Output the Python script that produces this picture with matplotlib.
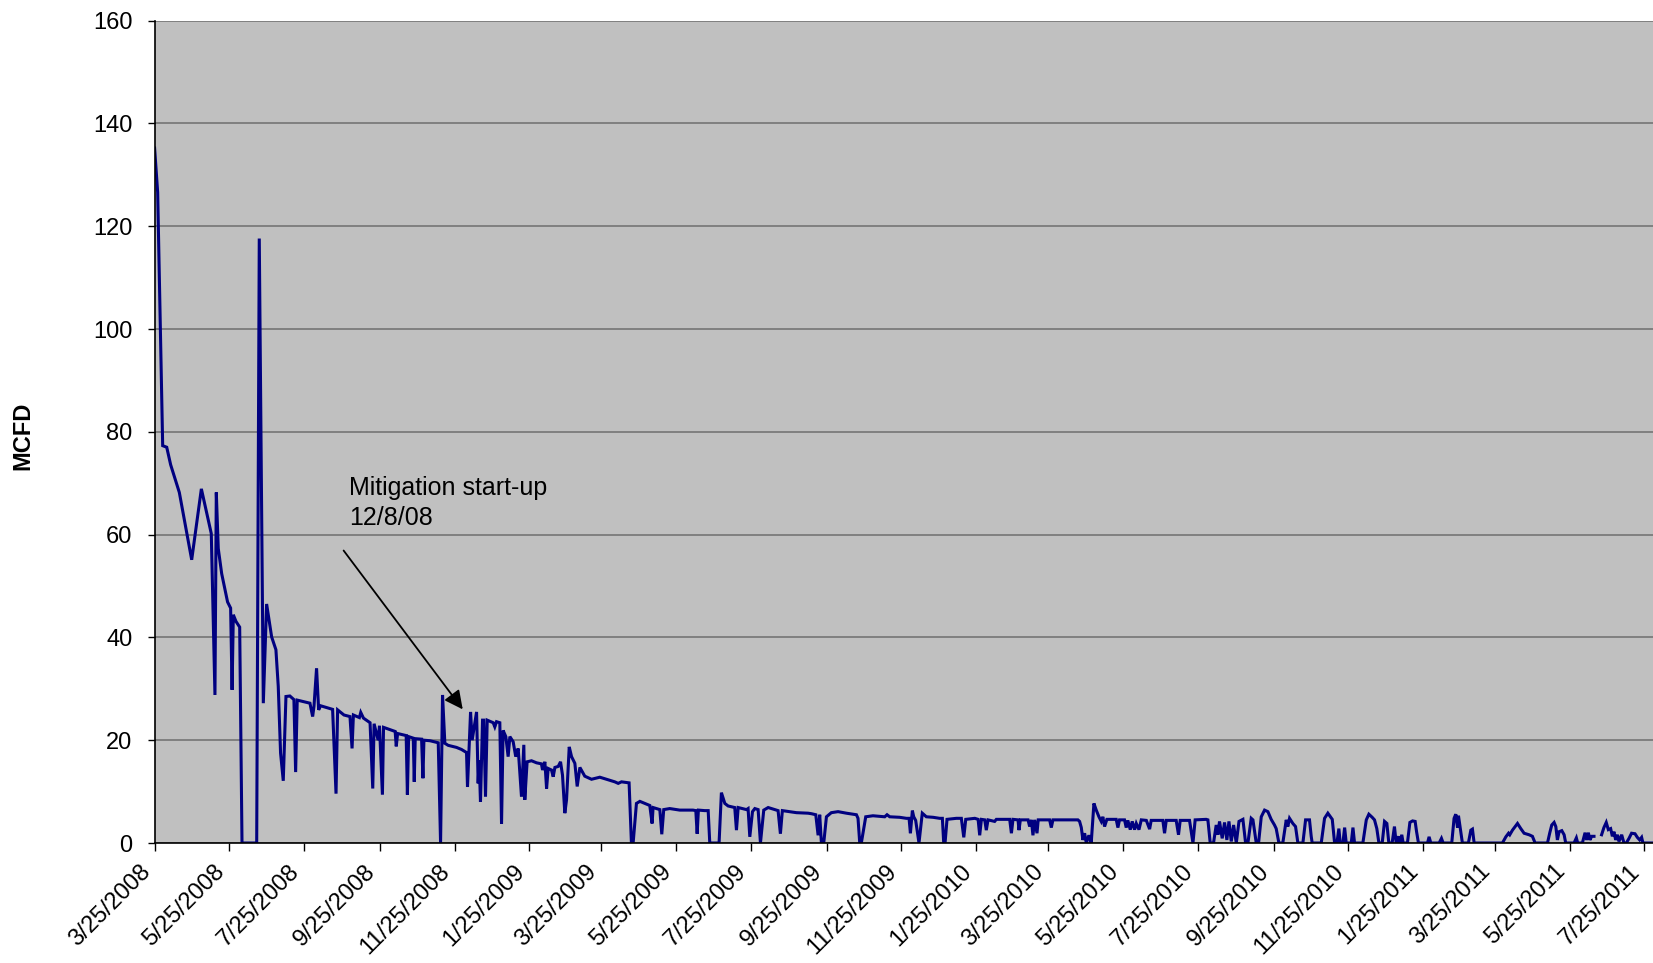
import matplotlib
matplotlib.use("Agg")
import matplotlib.pyplot as plt
import matplotlib.transforms as mtransforms
import numpy as np
import pandas as pd

plt.rcParams['font.family'] = ['Liberation Sans', 'DejaVu Sans']

START = "2008-03-25"
nan = float("nan")

# (days since 3/25/2008, MCFD)
seg_spring_2008 = [
    (0, 135.2), (2.5, 126.6), (6.6, 77.3), (9.9, 77.0), (13.1, 73.6), (20.2, 68.2),
    (30.3, 55.1), (38.2, 68.9), (46.3, 60.2), (49.3, 28.8), (50.4, 68.2), (52, 57.3),
    (54.8, 52.4), (59.6, 46.9), (62.1, 45.7), (63.3, 29.8), (64.3, 44.4), (66.5, 43.1),
    (69.5, 42.0), (71.4, 0), (83.4, 0), (85.5, 117.6), (88.8, 27.2), (91.5, 46.5),
    (95.6, 40.1), (99.1, 37.6), (101, 30.5), (102.9, 17.5), (105.1, 12.1), (107.3, 28.5),
    (110.5, 28.6), (113.8, 27.9), (115.2, 13.8), (116.5, 27.8),
]
seg_fall_2008 = [
    (126.9, 27.2), (129.1, 24.6), (130.2, 26.6), (132.3, 34.0), (134, 25.9), (135.6, 26.7),
    (145.4, 26.0), (148.2, 9.6), (149.5, 25.9), (154.7, 24.9), (159.6, 24.6), (161.3, 18.4),
    (162.4, 24.9), (167.3, 24.4), (168.4, 25.4), (170.6, 24.3), (176, 23.4), (178.2, 10.6),
    (179.3, 23.2), (182.6, 20.0), (183.7, 22.8), (186.1, 9.4), (187, 22.5), (196.5, 21.7),
    (197.4, 18.8), (198.5, 21.3), (205.5, 20.9), (206.5, 9.4), (207.5, 20.7), (211.3, 20.4),
    (212.1, 11.9), (212.9, 20.3), (218.1, 20.2), (219.2, 12.6), (220, 20.0), (224.9, 19.9),
    (231.7, 19.5), (233.6, 0),
]
seg_winter_2009 = [
    (235.2, 28.8), (237.1, 19.4), (239.8, 19.0), (246.6, 18.6), (250.7, 18.2), (254.8, 17.6),
    (255.6, 10.9), (256.7, 17.4), (258.1, 25.5), (259.4, 20.0), (263, 25.5), (264.3, 11.6),
    (265.1, 16.1), (266.2, 8.0), (267.9, 23.9), (268.9, 23.9), (270.3, 9.0), (271.7, 23.9),
    (276.6, 23.4), (277.9, 22.6), (279.3, 23.6), (282, 23.4), (283.4, 3.7), (284.7, 21.9),
    (286.9, 20.7), (288.8, 16.8), (290.2, 20.7), (292.9, 19.7), (295, 16.8), (297, 18.4),
    (299.7, 9.0), (301.6, 19.1), (302.4, 8.4), (304.3, 15.8), (307.9, 16.0), (312, 15.6),
    (316, 15.4), (316.9, 14.2), (318.8, 15.8), (320.2, 10.6), (321.5, 14.5), (324.2, 14.2),
    (325.6, 12.9), (327, 14.7), (329.7, 14.9), (331.6, 15.8), (333.2, 13.2), (335.1, 5.8),
    (336.5, 8.4), (338.7, 18.7), (340.6, 16.8), (343.3, 15.5), (345.2, 11.0), (347.4, 14.7),
    (351.4, 13.0), (356.9, 12.4), (363.7, 12.8), (369.1, 12.4), (375.9, 11.9), (378.7, 11.6),
    (381.4, 11.9), (387.6, 11.7), (389.5, 0),
]
seg_2009 = [
    (390.9, 0), (393.6, 7.7), (396.4, 8.1), (404.5, 7.3), (406.4, 3.8), (407.2, 6.9),
    (412.7, 6.5), (414.3, 1.7), (415.9, 6.5), (420.8, 6.7), (429, 6.4), (439.8, 6.4),
    (442.1, 6.3), (443.2, 1.8), (444.2, 6.4), (449.4, 6.3), (452.2, 6.3), (453.5, 0),
    (461.1, 0), (463, 9.8), (465.8, 7.7), (468.5, 7.2), (473.9, 6.9), (475.3, 2.5),
    (476.7, 6.9), (483.5, 6.5), (484.8, 6.7), (486.2, 1.2), (488.4, 6.1), (490.3, 6.7),
    (493, 6.5), (494.9, 0), (497.6, 6.4), (501.2, 6.9), (509.3, 6.3), (511.2, 1.8),
    (512.8, 6.3), (524.3, 5.9), (533.8, 5.8), (536.5, 5.7), (540.1, 5.5), (542, 1.5),
    (543.3, 5.5), (544.7, 0), (546.6, 0), (548.8, 5.1), (552.8, 5.9), (558.3, 6.1),
    (565.1, 5.8), (573.3, 5.5), (574.6, 4.8), (576, 0), (577.3, 0), (580.9, 5.1),
    (586.8, 5.3), (596.4, 5.1), (598.3, 5.5),
]
seg_2010 = [
    (600.5, 5.1), (608.6, 5.0), (614.1, 4.8), (616.3, 4.8), (617.4, 1.9), (619.0, 6.3),
    (620.1, 5.1), (621.7, 4.4), (624.4, 0), (627.1, 5.8), (630.4, 5.1), (635.9, 5.0),
    (641.3, 4.8), (643.5, 4.8), (644.6, 0), (645.7, 0), (647.3, 4.6), (654.9, 4.8),
    (659.0, 4.8), (661.0, 1.1), (662.6, 4.6), (670.0, 4.8), (672.7, 4.6), (674.0, 1.5),
    (675.4, 4.6), (678.1, 4.5), (679.4, 2.5), (680.8, 4.5), (686.2, 4.2), (687.6, 4.6),
    (698.5, 4.6), (699.9, 1.9), (701.2, 4.6), (705.3, 4.5), (706.1, 2.5), (707.2, 4.5),
    (713.5, 4.5), (714.8, 3.2), (716.2, 4.5), (717.5, 1.5), (718.9, 4.5), (720.8, 1.9),
    (721.8, 4.5), (731.1, 4.5), (732.5, 3.0), (733.8, 4.5), (754.2, 4.5), (755.6, 4.2),
    (757.0, 3.0), (758.3, 0.6), (759.7, 1.9), (761.1, 0), (763.2, 1.5), (765.1, 0),
    (767.3, 7.7), (769.2, 6.4), (771.4, 5.1), (773.3, 4.2), (774.6, 5.1), (776.0, 3.2),
    (777.9, 4.6), (785.5, 4.6), (786.9, 3.0), (788.2, 4.5), (792.3, 4.5), (793.7, 3.0),
    (795.0, 4.4), (797.0, 2.6), (798.6, 4.2), (800.5, 2.6), (801.9, 3.8), (804.1, 2.6),
    (806.0, 4.5), (810.1, 4.4),
]
seg_late_2010 = [
    (812.8, 2.7), (814.1, 4.4), (823.6, 4.4), (825.0, 1.9), (826.4, 4.4), (834.5, 4.4),
    (836.4, 1.6), (837.8, 4.4), (845.4, 4.4), (848.2, 0), (850.0, 4.5), (859.0, 4.6),
    (860.4, 4.5), (862.3, 0), (865.0, 0), (867.2, 3.5), (868.6, 1.6), (869.9, 4.2),
    (872.1, 0.9), (874.0, 4.0), (875.9, 0.6), (877.6, 4.2), (879.5, 0.3), (881.4, 3.5),
    (883.6, 0), (885.8, 4.2), (889.0, 4.6), (891.2, 0), (893.1, 0), (895.8, 4.8),
    (897.2, 4.5), (899.9, 0), (901.8, 0), (904.0, 5.1), (906.7, 6.4), (909.4, 6.1),
    (912.1, 4.6), (914.8, 3.5), (916.2, 2.8), (918.4, 0), (921.6, 0), (924.4, 4.5),
    (925.7, 3.2), (927.1, 4.8), (929.8, 3.8), (932.0, 3.2), (933.9, 0), (938.0, 0),
    (940.2, 4.5), (943.4, 4.5), (944.8, 1.3), (945.6, 0), (953.0, 0), (955.7, 4.8),
    (958.4, 5.8), (962.0, 4.6), (963.9, 0), (965.8, 0), (967.4, 2.8), (968.5, 0),
    (970.7, 0), (972.1, 3.0), (973.4, 0), (977.5, 0), (978.9, 3.0), (980.2, 0),
    (987.0, 0), (989.8, 4.5), (991.9, 5.6), (994.6, 5.0), (996.5, 4.5), (998.4, 2.8),
    (1000.1, 0), (1002.8, 0), (1004.7, 4.2), (1006.6, 3.8), (1008.2, 0), (1010.9, 0),
    (1012.8, 3.2), (1014.2, 0),
]
seg_2011 = [
    (1016.1, 1.3), (1017.2, 0), (1018.8, 1.6), (1019.9, 0), (1023.4, 0), (1025.4, 4.0),
    (1027.6, 4.3), (1029.7, 4.2), (1030.8, 2.3), (1032.4, 0), (1039.8, 0), (1041.1, 1.2),
    (1042.5, 0), (1049.3, 0), (1051.2, 0.9), (1052.6, 0), (1059.6, 0), (1061.5, 4.8),
    (1062.9, 5.6), (1064.3, 3.0), (1065.1, 5.3), (1067.0, 2.2), (1068.3, 0), (1073.2, 0),
    (1075.2, 2.5), (1076.5, 2.7), (1077.9, 0), (1101.0, 0), (1103.8, 1.2), (1106.0, 1.9),
    (1107.0, 1.6), (1109.2, 2.5), (1113.3, 3.8), (1116.0, 2.8), (1118.7, 1.9), (1122.8, 1.6),
    (1125.5, 1.3), (1127.7, 0), (1137.8, 0), (1139.7, 2.0), (1141.3, 3.5), (1143.2, 4.0),
    (1144.6, 3.2), (1145.9, 0.6), (1147.3, 2.2), (1149.5, 2.4), (1151.4, 1.6), (1152.7, 0),
    (1159.5, 0), (1161.4, 1.0), (1162.5, 0), (1166.3, 0), (1168.5, 2.0), (1169.8, 0.6),
    (1171.2, 2.0), (1172.5, 0.6), (1173.9, 1.3), (1175.8, 1.3), (1177.0, nan), (1182.0, 1.6),
    (1183.9, 3.0), (1185.8, 4.0), (1187.5, 2.6), (1189.4, 2.8), (1190.8, 1.3), (1192.1, 2.2),
    (1193.5, 0.6), (1194.9, 1.6), (1196.2, 0.3), (1198.4, 1.6), (1200.3, 0), (1202.2, 0),
    (1204.4, 0.9), (1206.5, 1.9), (1209.3, 1.8), (1211.2, 1.1), (1213.1, 0.6), (1214.7, 1.1),
    (1215.8, 0), (1223.4, 0),
]

tick_labels = ["3/25/2008", "5/25/2008", "7/25/2008", "9/25/2008", "11/25/2008",
               "1/25/2009", "3/25/2009", "5/25/2009", "7/25/2009", "9/25/2009",
               "11/25/2009", "1/25/2010", "3/25/2010", "5/25/2010", "7/25/2010",
               "9/25/2010", "11/25/2010", "1/25/2011", "3/25/2011", "5/25/2011",
               "7/25/2011"]
y_ticks = [0, 20, 40, 60, 80, 100, 120, 140, 160]

annotation_text = "Mitigation start-up\n12/8/08"
arrow_tail = (154.4, 56.9)   # days, MCFD
arrow_head = (251.7, 26.0)
text_pos = (158.7, 72.0)

# ---------------------------------------------------------------
start = pd.Timestamp(START)
allpts = (seg_spring_2008 + seg_fall_2008 + seg_winter_2009 + seg_2009 +
          seg_2010 + seg_late_2010 + seg_2011)
days = np.array([p[0] for p in allpts], dtype=float)
vals = np.array([p[1] for p in allpts], dtype=float)
dates = start + pd.to_timedelta(days, unit="D")

def d(day):
    return start + pd.Timedelta(days=day)

W, H = 1653, 963
fig = plt.figure(figsize=(W / 100, H / 100), dpi=100)
left, right, top, bottom = 154.6, 1653.0, 20.6, 843.0
ax = fig.add_axes([left / W, 1 - bottom / H, (right - left) / W, (bottom - top) / H])
ax.set_facecolor("#C0C0C0")

ax.plot(dates, vals, color="#000080", lw=2.2, solid_joinstyle="miter")

ax.set_ylim(0, 160)
ax.set_xlim(start, d(1224))
ax.set_yticks(y_ticks)
ax.yaxis.grid(True, color="#808080", lw=1.4)
ax.set_axisbelow(True)

tick_dates = pd.to_datetime(tick_labels, format="%m/%d/%Y")
ax.set_xticks(tick_dates)
ax.set_xticklabels(tick_labels, rotation=45, ha="right")
shift = mtransforms.ScaledTranslation(5 / 100, -4 / 100, fig.dpi_scale_trans)
for lab in ax.get_xticklabels():
    lab.set_transform(lab.get_transform() + shift)

for s in ("top", "right"):
    ax.spines[s].set_visible(False)
for s in ("left", "bottom"):
    ax.spines[s].set_color("black")
    ax.spines[s].set_linewidth(1.2)

ax.tick_params(axis="y", direction="out", length=5, width=1, labelsize=17, pad=11)
ax.tick_params(axis="x", direction="out", length=5.5, width=1, labelsize=17, pad=7)

fig.text(23 / W, 1 - 436 / H, "MCFD", rotation=90, fontweight="bold",
         fontsize=17, ha="center", va="center")

ax.annotate("", xy=(d(arrow_head[0]), arrow_head[1]),
            xytext=(d(arrow_tail[0]), arrow_tail[1]),
            arrowprops=dict(arrowstyle="-|>", color="black", lw=1.3,
                            mutation_scale=28, shrinkA=0, shrinkB=0))
ax.text(d(text_pos[0]), text_pos[1] - 0.6, annotation_text, fontsize=18,
        ha="left", va="top", linespacing=1.3)

fig.savefig("out.png", dpi=100, facecolor="white")
